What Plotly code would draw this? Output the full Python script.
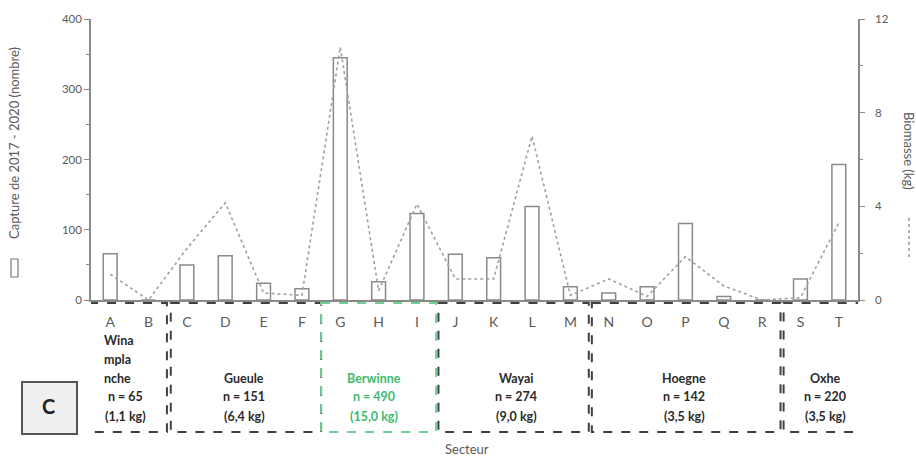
import plotly.graph_objects as go

# ---- data ----
secteurs = list("ABCDEFGHIJKLMNOPQRST")
capture = [66, 0, 50, 63, 24, 16, 345, 26, 123, 65, 60, 133, 19, 10, 19, 109, 5, 0, 30, 193]
biomasse = [1.1, 0.0, 2.2, 4.15, 0.3, 0.2, 10.8, 0.4, 4.1, 0.9, 0.9, 7.0, 0.2, 0.9, 0.15, 1.85, 0.6, 0.0, 0.1, 3.3]
riviere = ["Wina<br>mpla<br>nche", "Gueule", "Berwinne", "Wayai", "Hoegne", "Oxhe"]
n_total = [65, 151, 490, 274, 142, 220]
kg_total = ["1,1", "6,4", "15,0", "9,0", "3,5", "3,5"]
left_ticks = [0, 100, 200, 300, 400]
right_ticks = [0, 4, 8, 12]

# ---- layout helpers (pixel geometry) ----
W, H = 916, 463
L, R, T, B = 91, 858, 19, 300
def px(x):
    return (x - L) / (R - L)
def py(y):
    return (B - y) / (B - T)

FONT = "Lato"
GREY = "#5a5a5a"
GREEN = "#3dbb6e"

def ann(text, x, y, size=13, color=GREY, angle=0, xanchor="center"):
    return dict(text=text, xref="paper", yref="paper", x=px(x), y=py(y),
                xanchor=xanchor, yanchor="middle", textangle=angle, showarrow=False,
                font=dict(family=FONT, size=size, color=color))

fig = go.Figure()
fig.add_trace(go.Bar(
    x=secteurs, y=capture, width=0.36,
    marker=dict(color="white", line=dict(color="#8a8a8a", width=1.5)),
    name="Capture", yaxis="y"))
fig.add_trace(go.Scatter(
    x=secteurs, y=biomasse, mode="lines",
    line=dict(color="#a0a0a0", width=1.6, dash="dot"),
    name="Biomasse", yaxis="y2"))

# group boxes (category index spans)
spans = [(-0.55, 1.48), (1.58, 5.5), (5.5, 8.5), (8.56, 12.48), (12.56, 17.48), (17.56, 19.6)]
text_px = [125, 244, 374, 516, 684, 825]
shapes = []
annotations = []
for i, (a, b) in enumerate(spans):
    col = GREEN if i == 2 else "#2a2a2a"
    lc = "#6fcf94" if i == 2 else "#404040"
    shapes.append(dict(type="rect", xref="x", yref="paper", x0=a, x1=b,
                       y0=py(303), y1=py(432), line=dict(color=lc, width=2, dash="dash")))
    lines = riviere[i].split("<br>") + [f"n = {n_total[i]}", f"({kg_total[i]} kg)"]
    ys = [416, 397, 378, 359, 340][:len(lines)][::-1]
    for j, (txt, yy) in enumerate(zip(lines, ys)):
        if i == 0 and j < 3:
            annotations.append(ann(f"<b>{txt}</b>", 102, yy, 12.5, col, xanchor="left"))
        else:
            annotations.append(ann(f"<b>{txt}</b>", text_px[i], yy, 12.5, col))

# C panel box
shapes.append(dict(type="rect", xref="paper", yref="paper", x0=px(22), x1=px(77),
                   y0=py(382), y1=py(434), fillcolor="#efefef", line=dict(color="#555", width=2)))
annotations.append(ann("<b>C</b>", 48, 406, 20, "#222"))

# left axis title with legend symbol
shapes.append(dict(type="rect", xref="paper", yref="paper", x0=px(11), x1=px(18),
                   y0=py(259), y1=py(277), line=dict(color="#777", width=1.2), fillcolor="white"))
annotations.append(ann("Capture de 2017 - 2020 (nombre)", 14, 143, 13, GREY, angle=-90))
# right axis title with legend symbol
annotations.append(ann("Biomasse (kg)", 909, 151, 13, GREY, angle=90))
shapes.append(dict(type="line", xref="paper", yref="paper", x0=px(909), x1=px(909),
                   y0=py(218), y1=py(258), line=dict(color="#999", width=1.5, dash="dot")))
annotations.append(ann("Secteur", 467, 449, 13, GREY))

fig.update_layout(
    width=W, height=H, margin=dict(l=L, r=W - R, t=T, b=H - B),
    plot_bgcolor="white", paper_bgcolor="white", showlegend=False,
    font=dict(family=FONT, color=GREY),
    xaxis=dict(type="category", range=[-0.5, 19.5], showline=True, linecolor="#8a8a8a",
               linewidth=1.5, ticks="", tickfont=dict(size=14, color=GREY),
               ticklabelstandoff=8, showgrid=False, zeroline=False, fixedrange=True),
    yaxis=dict(range=[0, 400], tickvals=left_ticks, showline=True, linecolor="#8a8a8a",
               linewidth=1.5, ticks="outside", ticklen=5, tickcolor="#8a8a8a",
               minor=dict(dtick=50, ticks="outside", ticklen=3, tickcolor="#8a8a8a"),
               tickfont=dict(size=11.5, color=GREY), showgrid=False, zeroline=False),
    yaxis2=dict(range=[0, 12], tickvals=right_ticks, overlaying="y", side="right",
                showline=True, linecolor="#8a8a8a", linewidth=1.5, ticks="outside",
                ticklen=5, tickcolor="#8a8a8a",
                minor=dict(dtick=2, ticks="outside", ticklen=3, tickcolor="#8a8a8a"),
                tickfont=dict(size=11.5, color=GREY), ticklabelstandoff=8,
                showgrid=False, zeroline=False),
    shapes=shapes, annotations=annotations,
)
fig.write_html("out.html", config={"displayModeBar": False},
               post_script="document.body.style.margin='0';document.body.style.overflow='hidden';")
